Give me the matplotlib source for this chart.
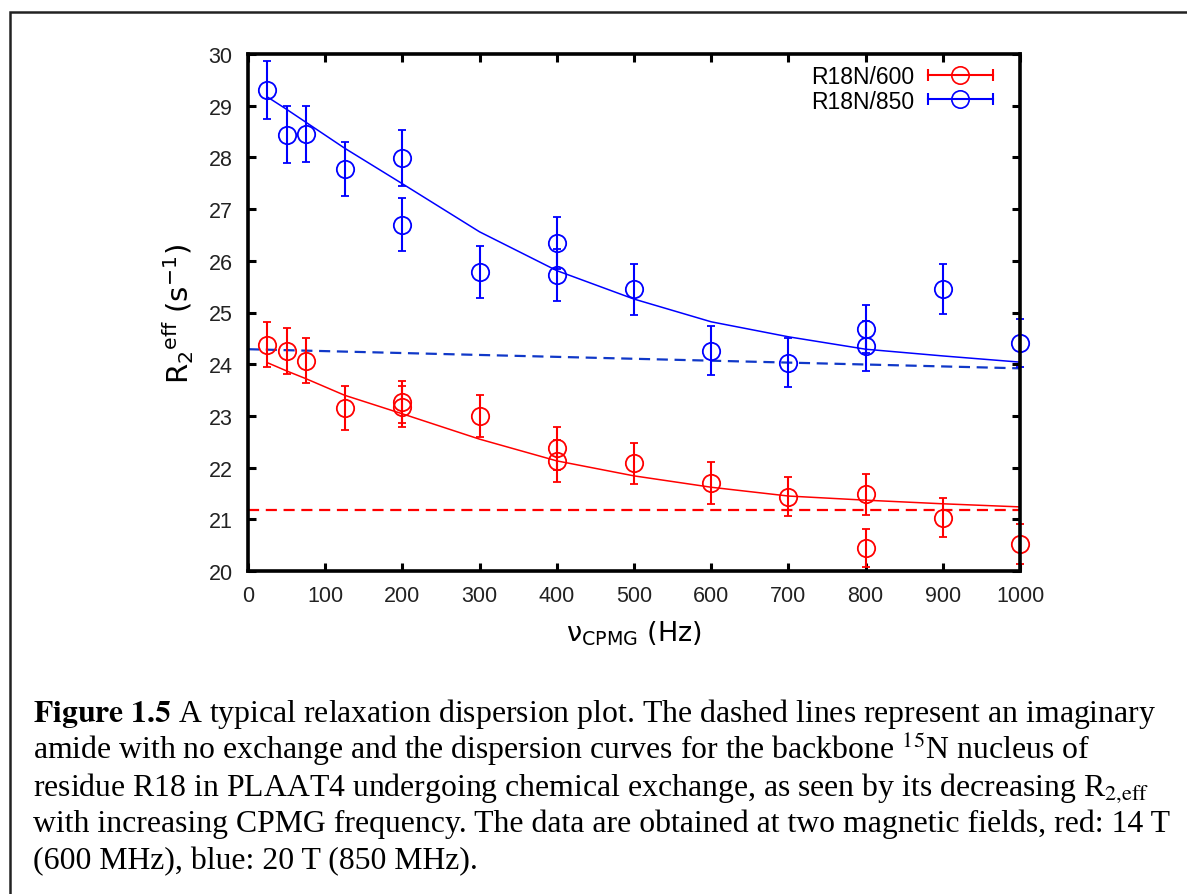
import numpy as np
import matplotlib.pyplot as plt
from matplotlib.lines import Line2D
from matplotlib.patches import Rectangle
from matplotlib.legend_handler import HandlerBase

plt.rcParams['font.family'] = ['Liberation Sans', 'DejaVu Sans']

# R2,eff data for residue R18 (600 MHz and 850 MHz)
nu_600 = [25, 50, 75, 125, 200, 200, 300, 400, 400, 500, 600, 700, 800, 800, 900, 1000]
r2_600 = [24.38, 24.26, 24.07, 23.15, 23.27, 23.18, 23.0, 22.37, 22.13, 22.08, 21.70, 21.44, 21.48, 20.44, 21.03, 20.52]
err_600 = [0.43, 0.44, 0.43, 0.42, 0.40, 0.40, 0.40, 0.41, 0.41, 0.40, 0.40, 0.38, 0.40, 0.37, 0.38, 0.38]

nu_850 = [25, 50, 75, 125, 200, 200, 300, 400, 400, 500, 600, 700, 800, 800, 900, 1000]
r2_850 = [29.30, 28.44, 28.45, 27.78, 27.99, 26.70, 25.79, 26.34, 25.73, 25.45, 24.26, 24.03, 24.68, 24.35, 25.45, 24.41]
err_850 = [0.56, 0.55, 0.54, 0.52, 0.54, 0.51, 0.50, 0.50, 0.50, 0.49, 0.47, 0.48, 0.47, 0.48, 0.48, 0.46]

# fitted dispersion curves
fit_nu = [25, 50, 75, 125, 200, 300, 400, 500, 600, 700, 800, 900, 1000]
fit_600 = [24.03, 23.87, 23.72, 23.40, 23.04, 22.55, 22.13, 21.84, 21.62, 21.45, 21.37, 21.30, 21.24]
fit_850 = [29.17, 28.93, 28.68, 28.18, 27.49, 26.56, 25.81, 25.26, 24.82, 24.53, 24.29, 24.16, 24.04]

# no-exchange reference lines
ref_nu = [0, 1000]
ref_600 = [21.18, 21.18]
ref_850 = [24.29, 23.92]

labels = ['R18N/600', 'R18N/850']
red, blue, dblue = '#ff0000', '#0000ff', '#1038c8'


class ErrKey(HandlerBase):
    # gnuplot style key: horizontal bar with caps and a circle in the middle
    def create_artists(self, legend, orig_handle, xdescent, ydescent, width, height, fontsize, trans):
        c = orig_handle.get_color()
        y = height / 2 - ydescent
        bar = Line2D([-xdescent, width - xdescent], [y, y], color=c, lw=1.5,
                     marker='|', ms=8, mew=1.5)
        dot = Line2D([width / 2 - xdescent], [y], color=c, marker='o', ms=12.5,
                     mfc='none', mew=1.2, ls='none')
        for a in (bar, dot):
            a.set_transform(trans)
        return [bar, dot]


fig = plt.figure(figsize=(11.87, 8.95), dpi=100)
ax = fig.add_axes([248 / 1187, 1 - 572 / 895, 772 / 1187, 517 / 895])

ax.plot(ref_nu, ref_850, color=dblue, lw=1.6, ls=(0, (5, 3)))
ax.plot(ref_nu, ref_600, color=red, lw=1.6, ls=(0, (5, 3)))
ax.plot(fit_nu, fit_850, color=blue, lw=1.1)
ax.plot(fit_nu, fit_600, color=red, lw=1.1)

for x, y, e, c in [(nu_600, r2_600, err_600, red), (nu_850, r2_850, err_850, blue)]:
    ax.errorbar(x, y, yerr=e, fmt='o', color=c, ms=12.5, mfc='none', mew=1.3,
                elinewidth=1.5, capsize=3, capthick=1.5, clip_on=False)

ax.set_xlim(0, 1000)
ax.set_ylim(20, 30)
ax.set_xticks(np.arange(0, 1001, 100))
ax.set_yticks(np.arange(20, 31, 1))
ax.tick_params(direction='in', top=True, right=True, length=6, width=2.2,
               labelsize=15.5, labelcolor='#222222')
ax.tick_params(axis='x', pad=10)
ax.tick_params(axis='y', pad=11)
for s in ax.spines.values():
    s.set_linewidth(2.6)

ax.set_xlabel(r'ν$_{\mathrm{CPMG}}$ (Hz)', fontsize=19.5, family='DejaVu Sans', labelpad=9)
ax.set_ylabel(r'R$_{2}{}^{\mathrm{eff}}$ (s$^{-1}$)', fontsize=21, family='DejaVu Sans', labelpad=9)

proxies = [Line2D([], [], color=red), Line2D([], [], color=blue)]
ax.legend(proxies, labels, loc='upper right', bbox_to_anchor=(0.965, 0.978),
          frameon=False, markerfirst=False, fontsize=16.5, handlelength=2.85,
          handletextpad=0.6, labelspacing=0.05, borderpad=0, borderaxespad=0,
          handler_map={Line2D: ErrKey()})

# page frame around figure
fig.add_artist(Rectangle((10 / 1187, -0.1), 1.5, 0.1 + 1 - 13 / 895, fill=False,
                         lw=1.8, ec='#222222', transform=fig.transFigure, clip_on=False))

caption = [
    r'$\mathbf{Figure\ 1.5}$ A typical relaxation dispersion plot. The dashed lines represent an imaginary',
    r'amide with no exchange and the dispersion curves for the backbone $^{15}$N nucleus of',
    r'residue R18 in PLAAT4 undergoing chemical exchange, as seen by its decreasing R$_{\mathrm{2{,}eff}}$',
    r'with increasing CPMG frequency. The data are obtained at two magnetic fields, red: 14 T',
    r'(600 MHz), blue: 20 T (850 MHz).',
]
for i, line in enumerate(caption):
    fig.text(33 / 1187, 1 - (722 + i * 36.7) / 895, line, fontsize=22.9,
             family='Liberation Serif', math_fontfamily='stix', va='baseline', ha='left')

fig.savefig('out.png', dpi=100)
